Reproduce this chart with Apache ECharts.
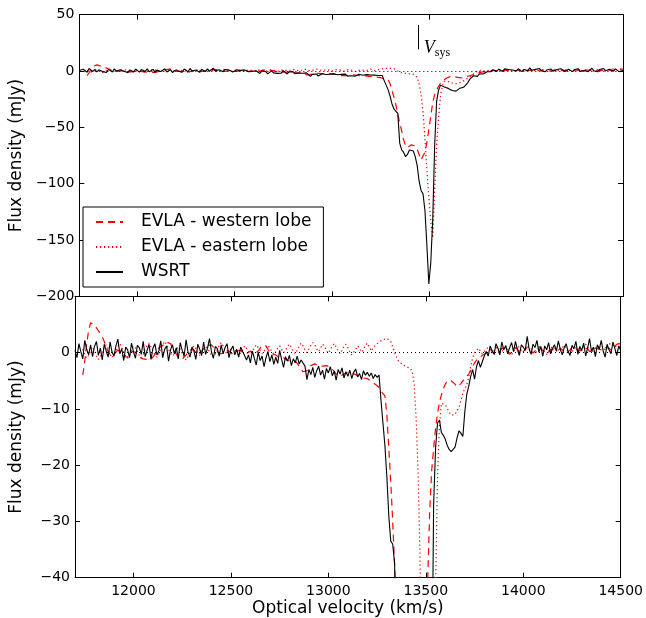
<!DOCTYPE html>
<html><head><meta charset="utf-8">
<script src="https://cdn.jsdelivr.net/npm/echarts@6/dist/echarts.min.js"></script>
<style>html,body{margin:0;padding:0;background:#fff}#c{width:646px;height:618px}</style>
</head><body><div id="c"></div>
<script>
// Channel grid (km/s)
const velStart = 11700;
const velStep = 10;

// WSRT flux density (mJy), one value per channel
const wsrt = [
 0.4, -0.9, 1.6, 0.2, -1.1, 2.2, 0.6, -0.4, 1.4, -0.7,
 1.1, 2.0, -0.5, 0.8, -1.3, 1.5, 0.3, -0.8, 1.9, 0.1,
 -0.6, 1.2, 2.4, -0.2, 0.7, -1.4, 1.0, 0.5, -0.9, 1.7,
 0.2, -1.0, 1.3, 0.9, -0.3, 2.0, -0.7, 0.4, 1.5, -1.2,
 0.8, 1.6, -0.4, 0.3, 2.1, -0.9, 0.6, 1.2, -1.5, 0.5,
 1.4, -0.2, 0.9, -1.1, 1.8, 0.4, -0.6, 2.3, 0.1, -0.8,
 1.0, 0.3, -1.2, 1.5, 0.6, -0.5, 1.9, -0.3, 0.8, 2.5,
 0.2, -1.0, 1.1, 0.7, -0.6, 1.4, -0.2, 0.9, 1.6, -0.9,
 0.5, 1.2, -0.4, 0.6, -0.8, 1.0, 0.2, -0.5, -1.3, -0.4,
 -1.8, 0.3, -1.0, -2.2, 0.1, -1.4, -0.6, -2.5, -0.9, 0.2,
 -1.6, -0.4, -2.1, -0.8, -1.9, 0.4, -1.2, -2.6, -0.7, -1.5,
 -0.5, -2.3, -1.1, -1.8, -0.6, -2.0, -1.3, -1.6, -2.4, -4.8,
 -3.0, -3.9, -2.6, -4.4, -3.2, -2.4, -4.0, -3.1, -4.7, -2.8,
 -3.6, -2.5, -4.1, -3.3, -4.9, -3.0, -3.8, -2.7, -4.5, -3.4,
 -4.2, -3.1, -4.6, -3.5, -2.9, -4.3, -3.7, -4.8, -3.2, -4.0,
 -3.5, -4.2, -3.6, -4.6, -3.9, -4.4, -4.0, -8.5, -12.5, -16.5,
 -22, -29, -33.5, -34, -37.5, -64, -70, -72, -76, -74,
 -70, -70, -71, -76, -84, -98, -106, -109, -124, -155,
 -189, -170, -132, -66, -27, -17, -12.5, -12.0, -14.2, -14.7,
 -15.4, -16.5, -17.2, -17.6, -17.8, -16.8, -15.2, -13.9, -14.3, -14.9,
 -10.5, -7.4, -6.0, -4.2, -3.0, -4.7, -2.5, -1.4, -2.6, -2.4,
 -0.6, 0.2, -0.6, 1.2, 0.4, -0.3, 1.6, 0.8, -0.4, 1.9,
 0.5, 1.3, -0.2, 0.9, 1.8, 0.2, 2.0, 0.6, -0.5, 1.4,
 1.0, 0.4, 2.9, 0.7, -0.3, 1.5, 0.9, 2.2, 0.1, 1.1,
 -0.6, 1.2, 0.5, 1.8, -0.2, 0.8, 1.4, 0.3, 2.1, 0.6,
 -0.4, 0.9, 1.6, 0.2, -0.5, 1.3, 0.7, 2.0, -0.3, 1.1,
 0.4, 1.7, -0.6, 0.8, 2.5, 0.2, 1.0, -0.7, 1.4, 0.6,
 2.2, 0.3, -0.8, 1.5, 0.5, -0.2, 1.9, 0.7, -0.5, 1.2,
 0.4
];

// EVLA western lobe (mJy)
const western = [
 null, null, null, null, -4.0, -1.5, 1.5, 4.0, 5.3, 5.5,
 4.9, 4.4, 3.9, 3.3, 2.8, 2.0, 1.0, 0.2, -0.3, -0.6,
 -0.4, 0.1, 0.5, 0.2, -0.3, -0.7, -0.9, -0.8, -0.4, 0.2,
 0.5, 0.1, -0.4, -0.8, -1.0, -1.1, -0.9, -1.2, -1.3, -1.2,
 -0.8, -0.3, 0.3, 0.8, 1.0, 1.3, 1.6, 1.9, 2.0, 1.6,
 1.0, 0.3, -0.3, -0.8, -1.1, -1.2, -0.9, -0.4, 0.1, 0.5,
 0.8, 0.5, 0.0, -0.4, -0.2, 0.3, 0.7, 1.0, 1.3, 1.5,
 1.4, 1.0, 0.6, 0.2, -0.2, -0.4, -0.1, 0.3, 0.5, 0.3,
 0.0, -0.3, -0.1, 0.3, 0.6, 0.4, 0.0, -0.3, -0.2, 0.1,
 0.3, 0.1, -0.2, 0.0, 0.3, 0.8, 1.3, 1.5, 1.2, 0.6,
 0.1, -0.3, -0.6, -0.4, -0.7, -1.0, -0.8, -0.9, -1.2, -1.4,
 -1.3, -1.5, -1.4, -1.5, -1.9, -2.4, -2.9, -3.4, -3.6, -3.2,
 -2.7, -2.3, -2.1, -2.0, -2.1, -2.3, -2.5, -2.4, -2.2, -2.3,
 -2.4, -2.6, -2.9, -3.3, -3.8, -4.1, -4.2, -4.0, -3.8, -3.6,
 -3.5, -3.4, -3.6, -3.8, -3.9, -4.1, -4.3, -4.2, -4.5, -4.8,
 -4.6, -4.8, -5.1, -5.4, -5.6, -5.8, -6.2, -6.8, -7.3, -7.7,
 -11, -17, -23, -30, -38, -46, -53, -61, -66, -68,
 -67, -65.5, -65, -66.5, -69.5, -74, -79, -80, -72, -63.5,
 -52, -40, -28, -21, -17, -13.5, -10.8, -8.8, -7.5, -6.4,
 -5.6, -5.0, -4.9, -5.0, -5.1, -5.6, -6.1, -6.0, -5.5, -5.0,
 -4.6, -4.2, -3.8, -3.2, -2.5, -1.8, -1.3, -1.0, -0.7, -0.5,
 -0.3, -0.2, 0.2, 0.6, 0.4, -0.1, -0.5, -0.3, 0.3, 0.8,
 1.0, 0.6, 0.1, -0.3, 0.0, 0.5, 0.9, 0.7, 0.2, -0.2,
 0.1, 0.6, 1.0, 0.8, 0.3, -0.1, 0.2, 0.7, 1.1, 0.9,
 0.4, 0.0, -0.3, 0.1, 0.6, 0.9, 0.5, 0.2, 0.4, 0.8,
 0.6, 0.2, -0.2, 0.0, 0.5, 0.9, 1.2, 0.8, 0.3, 0.0,
 0.4, 0.9, 1.1, 0.7, 0.2, -0.1, 0.3, 0.8, 1.0, 0.6,
 0.3, 0.5, 0.9, 1.2, 0.8, 0.4, 0.7, 1.1, 1.5, 1.8,
 1.6
];

// EVLA eastern lobe (mJy)
const eastern = [
 null, null, null, null, 0.6, -0.4, -1.0, -0.5, 0.3, 1.0,
 0.4, -0.6, -1.2, -0.8, 0.2, 0.9, 1.4, 0.7, -0.3, -0.9,
 -0.4, 0.5, 1.1, 1.6, 0.9, 0.1, -0.6, -1.0, -0.4, 0.5,
 1.2, 0.8, 0.2, -0.5, -0.9, -0.3, 0.6, 1.3, 1.7, 1.0,
 0.3, -0.4, -0.8, -0.2, 0.7, 1.4, 2.0, 1.5, 0.6, -0.1,
 -0.6, -0.2, 0.5, 1.0, 0.6, -0.2, -0.9, -1.3, -0.7, 0.2,
 0.8, 1.2, 0.7, 0.1, -0.5, -0.2, 0.6, 1.1, 0.8, 0.2,
 -0.4, -0.8, -0.3, 0.5, 1.3, 1.8, 1.2, 0.4, -0.3, 0.0,
 0.6, 1.0, 0.6, 0.0, -0.5, -0.2, 0.5, 1.2, 0.9, 0.3,
 -0.2, 0.3, 0.9, 1.4, 1.1, 0.4, -0.2, 0.1, 0.7, 1.3,
 0.8, 0.2, -0.3, 0.2, 0.8, 1.2, 0.6, 0.0, 0.4, 1.0,
 1.5, 0.9, 0.3, -0.2, 0.4, 1.1, 1.7, 1.2, 0.5, 0.0,
 0.6, 1.3, 1.8, 1.4, 0.7, 0.2, 0.8, 1.5, 1.1, 0.4,
 -0.1, 0.5, 1.2, 1.6, 1.0, 0.3, -0.2, 0.4, 1.1, 1.5,
 0.9, 0.2, -0.4, -0.1, 0.6, 1.2, 0.8, 0.1, 0.5, 1.3,
 1.7, 1.0, 0.3, 0.6, 1.3, 1.6, 1.9, 2.2, 2.3, 2.4,
 2.5, 2.7, 2.0, 1.0, 0.0, -0.8, -1.5, -1.8, -2.1, -2.3,
 -2.5, -2.6, -2.8, -3.3, -5.5, -11.5, -21, -36, -60, -88,
 -112, -133, -148, -106, -66, -42, -22, -13, -9.0, -8.9,
 -9.3, -9.9, -10.6, -11.1, -11.3, -11.0, -10.3, -9.7, -8.5, -7.2,
 -6.4, -5.7, -4.4, -2.5, -1.0, 0.0, 0.4, 0.8, 0.3, -0.2,
 0.1, 0.6, 1.0, 0.5, -0.1, 0.3, 0.9, 1.2, 0.7, 0.2,
 0.5, 1.0, 0.6, 0.0, -0.4, 0.2, 0.8, 1.3, 0.9, 0.4,
 0.0, 0.5, 1.1, 1.4, 0.8, 0.2, -0.2, 0.3, 0.9, 1.2,
 0.6, 0.1, -0.3, 0.2, 0.7, 1.1, 0.8, 0.3, 0.0, 0.4,
 0.9, 1.3, 0.8, 0.2, -0.2, 0.1, 0.6, 1.0, 0.7, 0.3,
 0.6, 1.1, 1.5, 1.0, 0.4, 0.0, 0.3, 0.8, 1.2, 0.9,
 0.5, 0.2, 0.6, 1.1, 1.6, 1.9, 1.4, 0.9, 1.2, 1.7,
 2.0
];

// Axis ticks
const xTicks = [12000, 12500, 13000, 13500, 14000, 14500];
const xRange = [11700, 14500];
const topRange = [-200, 50], topStep = 50;
const botRange = [-40, 10], botStep = 10;

// Systemic velocity marker
const vsys = 13448;
const vsysLow = 19.3, vsysHigh = 40.8;

const seriesNames = ['EVLA - western lobe', 'EVLA - eastern lobe', 'WSRT'];
const FONT = 'DejaVu Sans';

const velocity = wsrt.map((_, i) => velStart + i * velStep);
const pairs = arr => velocity.map((v, i) => [v, arr[i] === null ? null : arr[i]]);
const fmtMinus = v => (v < 0 ? '\u2212' + Math.abs(v) : String(v));

function xAx(g, pos, labels, name) {
  return {
    type: 'value', gridIndex: g, position: pos, min: xRange[0], max: xRange[1],
    axisLine: { show: true, onZero: false, lineStyle: { color: '#000', width: 1 } },
    axisTick: { show: true, inside: true, length: 5, customValues: xTicks, lineStyle: { color: '#000', width: 1 } },
    axisLabel: { show: labels, customValues: xTicks, margin: 7, fontSize: 14, color: '#000', fontFamily: FONT,
                 formatter: v => String(v) },
    splitLine: { show: false },
    name: name || '', nameLocation: 'middle', nameGap: 21,
    nameTextStyle: { fontSize: 17, color: '#000', fontFamily: FONT }
  };
}
function yAx(g, pos, range, step, labels, hideMax) {
  return {
    type: 'value', gridIndex: g, position: pos, min: range[0], max: range[1], interval: step,
    axisLine: { show: true, onZero: false, lineStyle: { color: '#000', width: 1 } },
    axisTick: { show: true, inside: true, length: 5, lineStyle: { color: '#000', width: 1 } },
    axisLabel: { show: labels, margin: 5, fontSize: 14, color: '#000', fontFamily: FONT,
                 formatter: fmtMinus, showMaxLabel: hideMax ? false : true, showMinLabel: true },
    splitLine: { show: false },
    name: labels ? 'Flux density (mJy)' : '', nameLocation: 'middle', nameGap: 50,
    nameTextStyle: { fontSize: 17, color: '#000', fontFamily: FONT }
  };
}

const zeroLine = { yAxis: 0, lineStyle: { color: '#000', type: [1, 3], width: 1 } };

function mkSeries(xi, yi, top) {
  const base = { type: 'line', xAxisIndex: xi, yAxisIndex: yi, symbol: 'none', showSymbol: false,
                 animation: false, clip: true, connectNulls: false };
  const s = [
    Object.assign({}, base, { name: seriesNames[0], data: pairs(western),
      lineStyle: { color: '#ff0000', width: 1.2, type: [7, 5] }, itemStyle: { color: '#ff0000' } }),
    Object.assign({}, base, { name: seriesNames[1], data: pairs(eastern),
      lineStyle: { color: '#ff0000', width: 1.2, type: [1.3, 2.7] }, itemStyle: { color: '#ff0000' } }),
    Object.assign({}, base, { name: seriesNames[2], data: pairs(wsrt),
      lineStyle: { color: '#000', width: 1.1, type: 'solid' }, itemStyle: { color: '#000' },
      markLine: { silent: true, animation: false, symbol: ['none', 'none'], label: { show: false },
        data: top ? [zeroLine, [{ coord: [vsys, vsysLow], lineStyle: { color: '#000', type: 'solid', width: 1 } },
                               { coord: [vsys, vsysHigh] }]] : [zeroLine] },
      markPoint: top ? { silent: true, animation: false,
        data: [{ coord: [vsys, vsysLow], symbolSize: 0,
          label: { show: true, position: 'right', distance: 5, color: '#000',
            formatter: '{v|V}{s|sys}',
            rich: {
              v: { fontFamily: 'Liberation Serif', fontStyle: 'italic', fontSize: 18, lineHeight: 20, color: '#000', verticalAlign: 'top' },
              s: { fontFamily: 'Liberation Serif', fontSize: 12, lineHeight: 6, color: '#000', verticalAlign: 'bottom' }
            } } }] } : undefined
    })
  ];
  return s;
}

const chart = echarts.init(document.getElementById('c'), null, { renderer: 'canvas' });
chart.setOption({
  backgroundColor: '#fff',
  animation: false,
  grid: [
    { left: 75, right: 23, top: 14.7, height: 281.7 },
    { left: 75, right: 23, top: 296.4, height: 281.3 }
  ],
  xAxis: [
    xAx(0, 'bottom', false),
    xAx(0, 'top', false),
    xAx(1, 'bottom', true, 'Optical velocity (km/s)'),
    xAx(1, 'top', false)
  ],
  yAxis: [
    yAx(0, 'left', topRange, topStep, true, false),
    yAx(0, 'right', topRange, topStep, false, false),
    yAx(1, 'left', botRange, botStep, true, true),
    yAx(1, 'right', botRange, botStep, false, true)
  ],
  legend: {
    data: seriesNames, orient: 'vertical', left: 83, top: 207,
    itemWidth: 27, itemHeight: 14, itemGap: 5,
    padding: [5, 12, 5, 12], borderColor: '#000', borderWidth: 1, borderRadius: 0,
    backgroundColor: '#fff',
    itemStyle: { opacity: 0, borderWidth: 0 },
    textStyle: { fontSize: 17, fontFamily: FONT, color: '#000', lineHeight: 20, padding: [0, 0, 0, 13] }
  },
  series: [].concat(mkSeries(0, 0, true), mkSeries(2, 2, false))
});
</script></body></html>
